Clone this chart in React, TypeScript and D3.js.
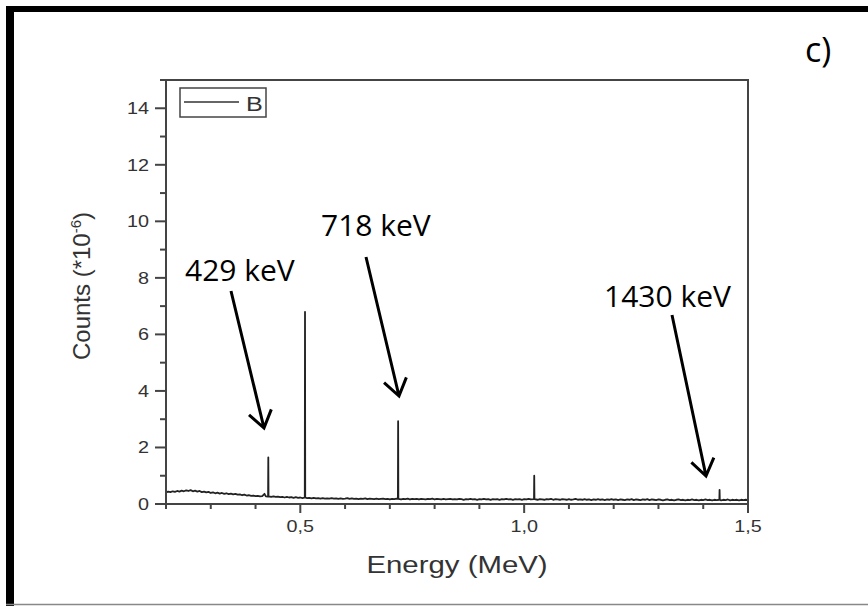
import React, { useEffect, useRef } from "react"
import * as d3 from "d3"

// energy (MeV), counts (*10^-6)
const spectrum: [number, number][] = [
  [0.2, 0.41], [0.205, 0.44], [0.21, 0.42], [0.215, 0.45], [0.22, 0.43], [0.225, 0.46], [0.23, 0.44],
  [0.235, 0.47], [0.24, 0.45], [0.245, 0.48], [0.25, 0.46], [0.255, 0.49], [0.26, 0.45], [0.265, 0.47],
  [0.27, 0.44], [0.275, 0.46], [0.28, 0.42], [0.285, 0.44], [0.29, 0.41], [0.295, 0.43], [0.3, 0.39],
  [0.305, 0.41], [0.31, 0.38], [0.315, 0.4], [0.32, 0.37], [0.325, 0.39], [0.33, 0.36], [0.335, 0.38],
  [0.34, 0.35], [0.345, 0.37], [0.35, 0.34], [0.355, 0.36], [0.36, 0.33], [0.365, 0.34], [0.37, 0.31],
  [0.375, 0.33], [0.38, 0.3], [0.385, 0.31], [0.39, 0.29], [0.395, 0.3], [0.4, 0.28], [0.405, 0.29],
  [0.41, 0.27], [0.415, 0.28], [0.42, 0.36], [0.423, 0.27], [0.428, 0.26], [0.4285, 1.65], [0.429, 0.27],
  [0.435, 0.25], [0.44, 0.27], [0.445, 0.25], [0.45, 0.26], [0.455, 0.24], [0.46, 0.25], [0.465, 0.23],
  [0.47, 0.25], [0.475, 0.23], [0.48, 0.24], [0.485, 0.22], [0.49, 0.24], [0.495, 0.22], [0.5, 0.23],
  [0.505, 0.21], [0.51, 0.23], [0.5105, 6.8], [0.511, 0.23], [0.515, 0.21], [0.52, 0.22], [0.525, 0.2],
  [0.53, 0.22], [0.535, 0.2], [0.54, 0.21], [0.545, 0.19], [0.55, 0.21], [0.555, 0.19], [0.56, 0.2],
  [0.565, 0.19], [0.57, 0.21], [0.575, 0.19], [0.58, 0.2], [0.585, 0.18], [0.59, 0.2], [0.595, 0.18],
  [0.6, 0.19], [0.605, 0.21], [0.61, 0.18], [0.615, 0.2], [0.62, 0.18], [0.625, 0.19], [0.63, 0.17],
  [0.635, 0.19], [0.64, 0.18], [0.645, 0.2], [0.65, 0.17], [0.655, 0.19], [0.66, 0.18], [0.665, 0.17],
  [0.67, 0.19], [0.675, 0.17], [0.68, 0.18], [0.685, 0.19], [0.69, 0.17], [0.695, 0.18], [0.7, 0.16],
  [0.705, 0.18], [0.71, 0.17], [0.715, 0.19], [0.718, 0.18], [0.7185, 2.93], [0.719, 0.18], [0.725, 0.16],
  [0.73, 0.18], [0.735, 0.17], [0.74, 0.19], [0.745, 0.16], [0.75, 0.18], [0.755, 0.17], [0.76, 0.18],
  [0.765, 0.16], [0.77, 0.18], [0.775, 0.17], [0.78, 0.16], [0.785, 0.18], [0.79, 0.17], [0.795, 0.19],
  [0.8, 0.16], [0.805, 0.18], [0.81, 0.17], [0.815, 0.16], [0.82, 0.18], [0.825, 0.16], [0.83, 0.17],
  [0.835, 0.18], [0.84, 0.16], [0.845, 0.17], [0.85, 0.16], [0.855, 0.18], [0.86, 0.17], [0.865, 0.15],
  [0.87, 0.17], [0.875, 0.16], [0.88, 0.18], [0.885, 0.16], [0.89, 0.17], [0.895, 0.15], [0.9, 0.17],
  [0.905, 0.16], [0.91, 0.18], [0.915, 0.16], [0.92, 0.17], [0.925, 0.15], [0.93, 0.17], [0.935, 0.16],
  [0.94, 0.17], [0.945, 0.15], [0.95, 0.17], [0.955, 0.16], [0.96, 0.18], [0.965, 0.16], [0.97, 0.17],
  [0.975, 0.15], [0.98, 0.17], [0.985, 0.16], [0.99, 0.17], [0.995, 0.15], [1.0, 0.17], [1.005, 0.16],
  [1.01, 0.18], [1.015, 0.16], [1.022, 0.17], [1.0225, 1.0], [1.023, 0.17], [1.03, 0.15], [1.035, 0.17],
  [1.04, 0.16], [1.045, 0.15], [1.05, 0.17], [1.055, 0.16], [1.06, 0.18], [1.065, 0.15], [1.07, 0.17],
  [1.075, 0.16], [1.08, 0.15], [1.085, 0.17], [1.09, 0.16], [1.095, 0.15], [1.1, 0.17], [1.105, 0.15],
  [1.11, 0.16], [1.115, 0.18], [1.12, 0.15], [1.125, 0.16], [1.13, 0.15], [1.135, 0.17], [1.14, 0.15],
  [1.145, 0.16], [1.15, 0.14], [1.155, 0.16], [1.16, 0.15], [1.165, 0.17], [1.17, 0.15], [1.175, 0.16],
  [1.18, 0.14], [1.185, 0.16], [1.19, 0.15], [1.195, 0.17], [1.2, 0.15], [1.205, 0.16], [1.21, 0.14],
  [1.215, 0.16], [1.22, 0.15], [1.225, 0.14], [1.23, 0.16], [1.235, 0.15], [1.24, 0.17], [1.245, 0.14],
  [1.25, 0.16], [1.255, 0.15], [1.26, 0.14], [1.265, 0.16], [1.27, 0.15], [1.275, 0.17], [1.28, 0.14],
  [1.285, 0.16], [1.29, 0.15], [1.295, 0.14], [1.3, 0.16], [1.305, 0.15], [1.31, 0.13], [1.315, 0.15],
  [1.32, 0.16], [1.325, 0.14], [1.33, 0.15], [1.335, 0.13], [1.34, 0.15], [1.345, 0.16], [1.35, 0.14],
  [1.355, 0.15], [1.36, 0.13], [1.365, 0.15], [1.37, 0.14], [1.375, 0.16], [1.38, 0.14], [1.385, 0.15],
  [1.39, 0.13], [1.395, 0.15], [1.4, 0.14], [1.405, 0.16], [1.41, 0.14], [1.415, 0.15], [1.42, 0.13],
  [1.425, 0.15], [1.43, 0.14], [1.436, 0.15], [1.4365, 0.5], [1.437, 0.15], [1.44, 0.13], [1.445, 0.15],
  [1.45, 0.14], [1.455, 0.16], [1.46, 0.13], [1.465, 0.15], [1.47, 0.14], [1.475, 0.15], [1.48, 0.13],
  [1.485, 0.15], [1.49, 0.14], [1.495, 0.15], [1.5, 0.14],
]

const xMajorTicks = [0.5, 1.0, 1.5]
const xTickLabels = ["0,5", "1,0", "1,5"]
const xMinorTicks = [0.2, 0.3, 0.4, 0.6, 0.7, 0.8, 0.9, 1.1, 1.2, 1.3, 1.4]
const yMajorTicks = [0, 2, 4, 6, 8, 10, 12, 14]
const yMinorTicks = [1, 3, 5, 7, 9, 11, 13, 15]
const peakLabels = ["429 keV", "718 keV", "1430 keV"]
const seriesName = "B"

const W = 868
const H = 606

export default function App() {
  const ref = useRef<SVGSVGElement>(null)

  useEffect(() => {
    const svg = d3.select(ref.current)
    svg.selectAll("*").remove()

    const plot = { left: 166, right: 748, top: 80, bottom: 504 }
    const x = d3.scaleLinear().domain([0.2, 1.5]).range([plot.left, plot.right])
    const y = d3.scaleLinear().domain([0, 15]).range([plot.bottom, plot.top])
    const axisColor = "#444"
    const sans = "'Liberation Sans', Arial, sans-serif"

    svg.append("rect").attr("width", W).attr("height", H).attr("fill", "white")

    // outer frame (thick top + left, thin bottom)
    svg.append("rect").attr("x", 6).attr("y", 6).attr("width", W - 6).attr("height", 6).attr("fill", "#000")
    svg.append("rect").attr("x", 6).attr("y", 6).attr("width", 8).attr("height", H - 6).attr("fill", "#000")
    svg.append("line").attr("x1", 6).attr("x2", W).attr("y1", 604.5).attr("y2", 604.5)
      .attr("stroke", "#888").attr("stroke-width", 1.5)

    // spectrum
    const line = d3.line<[number, number]>().x(d => x(d[0])).y(d => y(d[1]))
    svg.append("path")
      .datum(spectrum)
      .attr("d", line)
      .attr("fill", "none")
      .attr("stroke", "#222")
      .attr("stroke-width", 1.8)
      .attr("stroke-linejoin", "round")

    // plot box
    svg.append("rect")
      .attr("x", plot.left).attr("y", plot.top)
      .attr("width", plot.right - plot.left).attr("height", plot.bottom - plot.top)
      .attr("fill", "none").attr("stroke", axisColor).attr("stroke-width", 2)

    // x ticks
    svg.append("g").selectAll("line").data(xMinorTicks).enter().append("line")
      .attr("x1", d => x(d)).attr("x2", d => x(d))
      .attr("y1", plot.bottom).attr("y2", plot.bottom + 5)
      .attr("stroke", axisColor).attr("stroke-width", 2)
    svg.append("g").selectAll("line").data(xMajorTicks).enter().append("line")
      .attr("x1", d => x(d)).attr("x2", d => x(d))
      .attr("y1", plot.bottom).attr("y2", plot.bottom + 9)
      .attr("stroke", axisColor).attr("stroke-width", 2)
    svg.append("g").selectAll("text").data(xMajorTicks).enter().append("text")
      .attr("transform", d => `translate(${x(d)},${plot.bottom + 28}) scale(1.2,1)`)
      .attr("text-anchor", "middle")
      .attr("font-family", sans).attr("font-size", 16.5).attr("fill", "#333")
      .text((d, i) => xTickLabels[i])

    // y ticks
    svg.append("g").selectAll("line").data(yMinorTicks).enter().append("line")
      .attr("x1", plot.left - 6).attr("x2", plot.left)
      .attr("y1", d => y(d)).attr("y2", d => y(d))
      .attr("stroke", axisColor).attr("stroke-width", 2)
    svg.append("g").selectAll("line").data(yMajorTicks).enter().append("line")
      .attr("x1", plot.left - 11).attr("x2", plot.left)
      .attr("y1", d => y(d)).attr("y2", d => y(d))
      .attr("stroke", axisColor).attr("stroke-width", 2)
    svg.append("g").selectAll("text").data(yMajorTicks).enter().append("text")
      .attr("transform", d => `translate(${plot.left - 17},${y(d) + 6}) scale(1.2,1)`)
      .attr("text-anchor", "end")
      .attr("font-family", sans).attr("font-size", 16.5).attr("fill", "#333")
      .text(d => d)

    // axis titles
    svg.append("text")
      .attr("transform", `translate(${(plot.left + plot.right) / 2},573) scale(1.25,1)`)
      .attr("text-anchor", "middle")
      .attr("font-family", sans).attr("font-size", 23.5).attr("fill", "#333")
      .text("Energy (MeV)")
    const yt = svg.append("text")
      .attr("transform", `translate(90,286) rotate(-90)`)
      .attr("text-anchor", "middle")
      .attr("font-family", sans).attr("font-size", 24).attr("fill", "#333")
    yt.append("tspan").text("Counts (*10")
    yt.append("tspan").attr("font-size", 15).attr("dy", -9).text("-6")
    yt.append("tspan").attr("dy", 9).text(")")

    // legend
    svg.append("rect").attr("x", 180).attr("y", 88).attr("width", 86).attr("height", 29)
      .attr("fill", "white").attr("stroke", axisColor).attr("stroke-width", 1.5)
    svg.append("line").attr("x1", 184).attr("x2", 239).attr("y1", 102).attr("y2", 102)
      .attr("stroke", "#333").attr("stroke-width", 1.5)
    svg.append("text").attr("transform", "translate(246,111) scale(1.2,1)")
      .attr("font-family", sans).attr("font-size", 21).attr("fill", "#333")
      .text(seriesName)

    // annotations
    const ann = [
      { tx: 185, ty: 281, x1: 231, y1: 291, x2: 264, y2: 428 },
      { tx: 321, ty: 236, x1: 366, y1: 257, x2: 399, y2: 396 },
      { tx: 604, ty: 307, x1: 672, y1: 315, x2: 706, y2: 476 },
    ]
    ann.forEach((a, i) => {
      svg.append("text").attr("x", a.tx).attr("y", a.ty)
        .attr("font-family", "'Open Sans', sans-serif").attr("font-size", 30).attr("fill", "#000")
        .text(peakLabels[i])
      const ang = Math.atan2(a.y1 - a.y2, a.x1 - a.x2)
      const L = 20, spread = (35 * Math.PI) / 180
      const w1 = [a.x2 + L * Math.cos(ang - spread), a.y2 + L * Math.sin(ang - spread)]
      const w2 = [a.x2 + L * Math.cos(ang + spread), a.y2 + L * Math.sin(ang + spread)]
      svg.append("path")
        .attr("d", `M${a.x1},${a.y1}L${a.x2},${a.y2}M${w1[0]},${w1[1]}L${a.x2},${a.y2}L${w2[0]},${w2[1]}`)
        .attr("fill", "none").attr("stroke", "#000").attr("stroke-width", 3)
        .attr("stroke-linejoin", "miter")
    })

    svg.append("text").attr("x", 805).attr("y", 62)
      .attr("font-family", "'Open Sans', sans-serif").attr("font-size", 34).attr("fill", "#000")
      .text("c)")
  }, [])

  return (
    <svg
      ref={ref}
      width={W}
      height={H}
      style={{ position: "absolute", left: 0, top: 0, display: "block" }}
    />
  )
}
